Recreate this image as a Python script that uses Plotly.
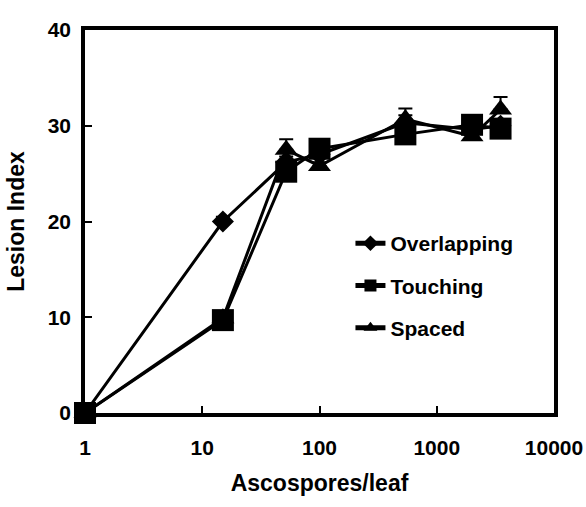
import plotly.graph_objects as go

x_vals = [1, 15, 52, 100, 540, 2000, 3500]
overlapping = [0, 20.0, 26.2, 27.0, 30.3, 29.6, 30.0]
overlapping_err = [0, 0.5, 0.6, 0.5, 0.8, 0.4, 0.5]
touching = [0, 9.7, 25.2, 27.6, 29.1, 30.1, 29.7]
touching_err = [0, 0.3, 0.5, 0.5, 0.5, 0.4, 0.5]
spaced = [0, 9.9, 27.5, 25.8, 30.7, 28.9, 31.7]
spaced_err = [0, 0.3, 1.1, 0.4, 1.1, 0.4, 1.3]

series = [
    ("Overlapping", overlapping, overlapping_err, "diamond", 17),
    ("Touching", touching, touching_err, "square", 22),
    ("Spaced", spaced, spaced_err, "triangle-up", 20),
]

x_ticks = [1, 10, 100, 1000, 10000]
x_ticktext = ["1", "10", "100", "1000", "10000"]
y_ticks = [0, 10, 20, 30, 40]

fig = go.Figure()
for i, (name, vals, err, sym, sz) in enumerate(series):
    fig.add_trace(go.Scatter(
        x=x_vals, y=vals, name=name, mode="lines+markers",
        legendgroup=f"g{i}",
        line=dict(color="black", width=3),
        marker=dict(symbol=sym, size=sz, color="black"),
        error_y=dict(type="data", symmetric=False, array=err,
                     arrayminus=[0] * len(err), color="black",
                     thickness=2, width=7),
        cliponaxis=False,
    ))

fig.update_layout(
    width=586, height=507,
    margin=dict(l=85, r=32, t=30, b=94),
    paper_bgcolor="white", plot_bgcolor="white",
    font=dict(family="Liberation Sans, Arial, sans-serif", color="black",
              size=21, weight="bold"),
    showlegend=True,
    legend=dict(x=0.566, y=0.496, xanchor="left", yanchor="top",
                bgcolor="rgba(0,0,0,0)", font=dict(size=21, weight="bold"),
                traceorder="grouped", tracegroupgap=12,
                itemsizing="constant"),
)
fig.update_xaxes(
    type="log", range=[0, 4],
    tickvals=x_ticks, ticktext=x_ticktext,
    ticks="inside", ticklen=7, tickwidth=2, tickcolor="black",
    showline=True, linewidth=3.5, linecolor="black", mirror=True,
    showgrid=False, zeroline=False, automargin=False,
    ticklabelstandoff=13,
    title=dict(text="Ascospores/leaf", font=dict(size=23, weight="bold"), standoff=18),
)
fig.update_yaxes(
    range=[0, 40], tickvals=y_ticks,
    ticks="inside", ticklen=7, tickwidth=2, tickcolor="black",
    showline=True, linewidth=3.5, linecolor="black", mirror=True,
    showgrid=False, zeroline=False, automargin=False,
    ticklabelstandoff=6,
    title=dict(text="Lesion Index", font=dict(size=23, weight="bold"), standoff=18),
)

fig.write_html("out.html", config={"displayModeBar": False},
               post_script="document.body.style.margin='0';document.body.style.overflow='hidden';")
